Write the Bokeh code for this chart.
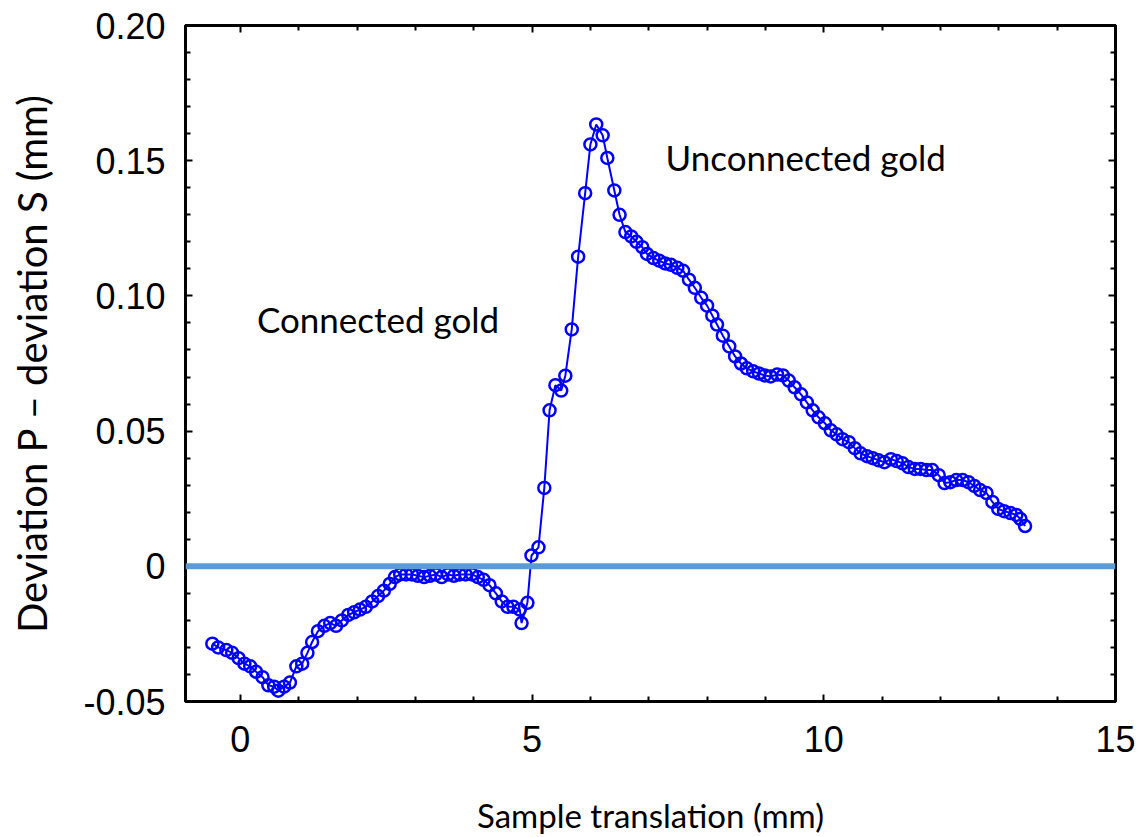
from bokeh.plotting import figure
from bokeh.models import (Range1d, FixedTicker, CustomJSTickFormatter, LinearAxis,
                          Span, Label, ColumnDataSource)
from bokeh.embed import file_html
from bokeh.resources import INLINE

# ---- data ----
translation_mm = [
    -0.48, -0.38, -0.24, -0.14, -0.03, 0.07, 0.17, 0.27, 0.38, 0.48, 0.58, 0.65, 0.75, 0.85,
    0.96, 1.06, 1.15, 1.23, 1.33, 1.44, 1.54, 1.64, 1.74, 1.85, 1.95, 2.05, 2.15, 2.26, 2.36,
    2.46, 2.56, 2.65, 2.74, 2.84, 2.94, 3.04, 3.15, 3.25, 3.35, 3.45, 3.56, 3.66, 3.76, 3.86,
    3.97, 4.07, 4.17, 4.27, 4.38, 4.48, 4.58, 4.68, 4.79, 4.82, 4.92, 4.99, 5.11, 5.21, 5.30,
    5.40, 5.50, 5.57, 5.68, 5.79, 5.91, 6.00, 6.10, 6.21, 6.29, 6.41, 6.50, 6.60, 6.70, 6.79,
    6.89, 6.97, 7.08, 7.18, 7.28, 7.38, 7.49, 7.59, 7.69, 7.79, 7.90, 8.00, 8.09, 8.17, 8.27,
    8.38, 8.48, 8.58, 8.68, 8.79, 8.89, 8.99, 9.09, 9.20, 9.30, 9.40, 9.50, 9.61, 9.71, 9.81,
    9.91, 10.02, 10.12, 10.22, 10.32, 10.43, 10.53, 10.63, 10.74, 10.84, 10.94, 11.04, 11.15,
    11.25, 11.35, 11.45, 11.56, 11.66, 11.76, 11.86, 11.97, 12.07, 12.17, 12.27, 12.38, 12.48,
    12.58, 12.68, 12.79, 12.89, 12.99, 13.09, 13.20, 13.30, 13.37, 13.45,
]
deviation_mm = [
    -0.0286, -0.0300, -0.0310, -0.0320, -0.0340, -0.0360, -0.0370, -0.0390, -0.0410, -0.0440,
    -0.0445, -0.0460, -0.0445, -0.0430, -0.0370, -0.0360, -0.0320, -0.0280, -0.0240, -0.0220,
    -0.0210, -0.0220, -0.0200, -0.0180, -0.0170, -0.0160, -0.0150, -0.0130, -0.0110, -0.0090,
    -0.0065, -0.0040, -0.0030, -0.0030, -0.0030, -0.0035, -0.0040, -0.0035, -0.0030, -0.0040,
    -0.0030, -0.0035, -0.0030, -0.0030, -0.0030, -0.0040, -0.0050, -0.0070, -0.0100, -0.0130,
    -0.0150, -0.0150, -0.0160, -0.0210, -0.0135, 0.0040, 0.0070, 0.0290, 0.0577, 0.0670,
    0.0650, 0.0705, 0.0876, 0.1145, 0.1380, 0.1560, 0.1634, 0.1594, 0.1510, 0.1390, 0.1300,
    0.1236, 0.1220, 0.1200, 0.1180, 0.1155, 0.1140, 0.1130, 0.1120, 0.1115, 0.1104, 0.1093,
    0.1060, 0.1030, 0.0993, 0.0964, 0.0927, 0.0894, 0.0853, 0.0813, 0.0776, 0.0750, 0.0732,
    0.0721, 0.0713, 0.0706, 0.0702, 0.0709, 0.0706, 0.0687, 0.0662, 0.0636, 0.0606, 0.0577,
    0.0551, 0.0529, 0.0503, 0.0488, 0.0470, 0.0459, 0.0437, 0.0418, 0.0407, 0.0400, 0.0392,
    0.0385, 0.0396, 0.0389, 0.0381, 0.0367, 0.0360, 0.0360, 0.0356, 0.0356, 0.0337, 0.0308,
    0.0311, 0.0319, 0.0319, 0.0311, 0.0297, 0.0282, 0.0271, 0.0238, 0.0212, 0.0204, 0.0197,
    0.0190, 0.0175, 0.0149,
]

x_ticks = [0, 5, 10, 15]
x_minor = [1, 2, 3, 4, 6, 7, 8, 9, 11, 12, 13, 14]
y_ticks = [-0.05, 0.0, 0.05, 0.10, 0.15, 0.20]
y_minor = [-0.04, -0.03, -0.02, -0.01, 0.01, 0.02, 0.03, 0.04, 0.06, 0.07, 0.08, 0.09,
           0.11, 0.12, 0.13, 0.14, 0.16, 0.17, 0.18, 0.19]
x_label = "Sample translation (mm)"
y_label = "Deviation P \u2013 deviation S (mm)"
annotations = [("Connected gold", 2.36, 0.0913), ("Unconnected gold", 9.69, 0.1512)]

# ---- figure ----
p = figure(width=1143, height=837, output_backend="svg", toolbar_location=None,
           x_range=Range1d(-0.94, 15.0), y_range=Range1d(-0.05, 0.20),
           min_border_left=185, min_border_right=28, min_border_top=25, min_border_bottom=134)
p.background_fill_color = "white"
p.border_fill_color = "white"
p.grid.visible = False
p.outline_line_color = "black"
p.outline_line_width = 3

tick_font = "Liberation Sans"
label_font = "Lato"

xfmt = CustomJSTickFormatter(code="return Math.abs(tick) < 1e-9 ? '0' : tick.toFixed(0);")
yfmt = CustomJSTickFormatter(code="return Math.abs(tick) < 1e-9 ? '0' : tick.toFixed(2);")
blank = CustomJSTickFormatter(code="return '';")

def style_axis(ax):
    ax.axis_line_width = 3
    ax.axis_line_color = "black"
    ax.major_tick_in = 7
    ax.major_tick_out = 0
    ax.minor_tick_in = 5
    ax.minor_tick_out = 0
    ax.major_tick_line_width = 2
    ax.minor_tick_line_width = 2
    ax.major_tick_line_color = "black"
    ax.minor_tick_line_color = "black"

xa = p.xaxis[0]
xa.ticker = FixedTicker(ticks=x_ticks, minor_ticks=x_minor)
xa.formatter = xfmt
style_axis(xa)
xa.major_label_text_font = tick_font
xa.major_label_text_font_size = "36px"
xa.major_label_text_color = "black"
xa.major_label_standoff = 24
xa.axis_label = x_label
xa.axis_label_text_font = label_font
xa.axis_label_text_font_size = "33px"
xa.axis_label_text_font_style = "normal"
xa.axis_label_text_color = "black"
xa.axis_label_standoff = 40

ya = p.yaxis[0]
ya.ticker = FixedTicker(ticks=y_ticks, minor_ticks=y_minor)
ya.formatter = yfmt
style_axis(ya)
ya.major_label_text_font = tick_font
ya.major_label_text_font_size = "36px"
ya.major_label_text_color = "black"
ya.major_label_standoff = 20
ya.axis_label = y_label
ya.axis_label_text_font = label_font
ya.axis_label_text_font_size = "40px"
ya.axis_label_text_font_style = "normal"
ya.axis_label_text_color = "black"
ya.axis_label_standoff = 24

top = LinearAxis(ticker=FixedTicker(ticks=x_ticks, minor_ticks=x_minor), formatter=blank,
                 major_label_standoff=0)
style_axis(top)
p.add_layout(top, "above")
right = LinearAxis(ticker=FixedTicker(ticks=y_ticks, minor_ticks=y_minor), formatter=blank,
                   major_label_standoff=0)
style_axis(right)
p.add_layout(right, "right")

src = ColumnDataSource(data=dict(x=translation_mm, y=deviation_mm))
p.line("x", "y", source=src, line_color="#0000FF", line_width=2)
p.scatter("x", "y", source=src, marker="circle", size=12, fill_color=None,
          line_color="#0000FF", line_width=2.5)

p.add_layout(Span(location=0, dimension="width", line_color="#5B9BD5", line_width=6))

for txt, ax_, ay_ in annotations:
    p.add_layout(Label(x=ax_, y=ay_, text=txt, text_align="center", text_baseline="middle",
                       text_font=label_font, text_font_size="35px", text_color="black"))

open("out.html", "w").write(file_html(p, INLINE))
